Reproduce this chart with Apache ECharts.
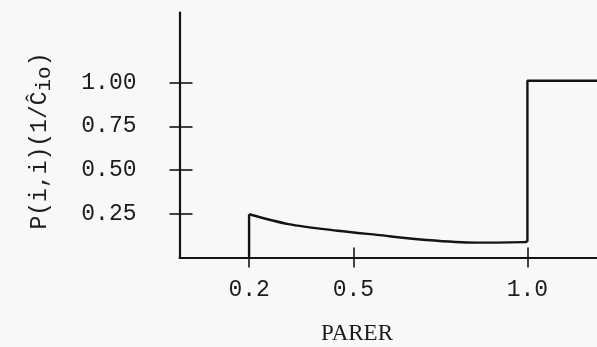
<!DOCTYPE html>
<html>
<head>
<meta charset="utf-8">
<script src="https://cdn.jsdelivr.net/npm/echarts@6/dist/echarts.min.js"></script>
<style>
  html, body { margin: 0; padding: 0; background: #f8f8f6; }
  #chart { width: 597px; height: 347px; }
</style>
</head>
<body>
<div id="chart"></div>
<script>
// ---- data ----
var xTicks = [0.2, 0.5, 1.0];
var xTickLabels = ['0.2', '0.5', '1.0'];
var yTicks = [0.25, 0.5, 0.75, 1.0];
var yTickLabels = ['0.25', '0.50', '0.75', '1.00'];

var riseX = [0.2, 0.2];
var riseY = [0, 0.247];

var curveX = [0.2, 0.313, 0.455, 0.568, 0.71, 0.852, 0.99, 1.0];
var curveY = [0.247, 0.191, 0.153, 0.129, 0.100, 0.085, 0.088, 0.09];

var stepX = [1.0, 1.0, 1.2];
var stepY = [0.09, 1.01, 1.01];

var xTitle = 'PARER';

function pairs(xs, ys) { return xs.map(function (x, i) { return [x, ys[i]]; }); }

var ink = '#141414';
var txt = '#1c1c1c';
var mono = '"Liberation Mono", "DejaVu Sans Mono", monospace';
var serif = '"Liberation Serif", "DejaVu Serif", serif';

var chart = echarts.init(document.getElementById('chart'), null, { renderer: 'canvas' });

var lineStyle = { color: ink, width: 2.4 };

chart.setOption({
  backgroundColor: '#f8f8f6',
  animation: false,
  grid: { left: 179.5, right: -6, top: 12.5, bottom: 89.5, containLabel: false },
  xAxis: [{
    type: 'value', min: 0, max: 1.2,
    splitLine: { show: false },
    axisLine: { show: true, onZero: false, lineStyle: { color: ink, width: 2.2 } },
    axisTick: { show: true, length: 10, customValues: xTicks, lineStyle: { color: ink, width: 1.6 } },
    axisLabel: {
      show: true, customValues: xTicks, margin: 21,
      formatter: function (v) { var i = xTicks.indexOf(v); return i >= 0 ? xTickLabels[i] : ''; },
      fontFamily: mono, fontSize: 23, color: txt
    }
  }, {
    type: 'value', min: 0, max: 1.2, position: 'bottom',
    splitLine: { show: false },
    axisLine: { show: false },
    axisTick: { show: true, inside: true, length: 10, customValues: xTicks, lineStyle: { color: ink, width: 1.6 } },
    axisLabel: { show: false }
  }],
  yAxis: [{
    type: 'value', min: 0, max: 1.4,
    splitLine: { show: false },
    axisLine: { show: true, onZero: false, lineStyle: { color: ink, width: 2.2 } },
    axisTick: { show: true, length: 10, customValues: yTicks, lineStyle: { color: ink, width: 1.6 } },
    axisLabel: {
      show: true, customValues: yTicks, margin: 43,
      formatter: function (v) { var i = yTicks.indexOf(v); return i >= 0 ? yTickLabels[i] : ''; },
      fontFamily: mono, fontSize: 23, color: txt
    }
  }, {
    type: 'value', min: 0, max: 1.4, position: 'left',
    splitLine: { show: false },
    axisLine: { show: false },
    axisTick: { show: true, inside: true, length: 13, customValues: yTicks, lineStyle: { color: ink, width: 1.6 } },
    axisLabel: { show: false }
  }],
  title: {
    text: xTitle, left: 352, top: 317, textAlign: 'center',
    textStyle: { fontFamily: serif, fontSize: 23, fontWeight: 'normal', color: txt }
  },
  graphic: [{
    type: 'text',
    x: 40, y: 141,
    rotation: Math.PI / 2,
    style: {
      text: '{n|P(i,i)(1/Ĉ}{s|io}{n|)}',
      align: 'center', verticalAlign: 'middle',
      fill: txt,
      rich: {
        n: { fontFamily: mono, fontSize: 23, lineHeight: 30, verticalAlign: 'middle', fill: txt },
        s: { fontFamily: mono, fontSize: 21, lineHeight: 30, verticalAlign: 'bottom', padding: [10, 0, 0, 0], fill: txt }
      }
    }
  }],
  series: [
    { type: 'line', xAxisIndex: 0, yAxisIndex: 0, data: pairs(riseX, riseY), showSymbol: false, symbol: 'none', lineStyle: lineStyle },
    { type: 'line', xAxisIndex: 0, yAxisIndex: 0, data: pairs(curveX, curveY), showSymbol: false, symbol: 'none', smooth: 0.3, lineStyle: lineStyle },
    { type: 'line', xAxisIndex: 0, yAxisIndex: 0, data: pairs(stepX, stepY), showSymbol: false, symbol: 'none', lineStyle: lineStyle }
  ]
});
</script>
</body>
</html>
